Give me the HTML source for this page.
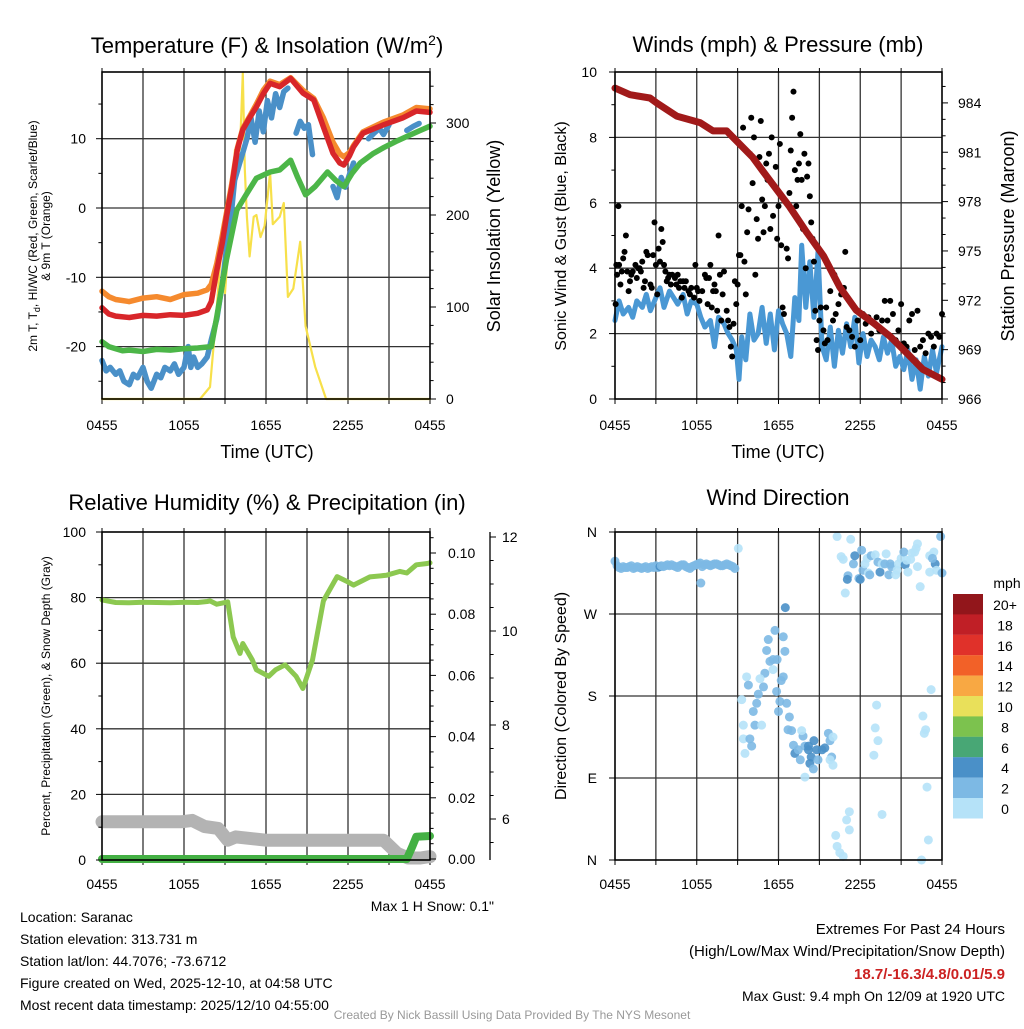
<!DOCTYPE html>
<html><head><meta charset="utf-8"><style>
html,body{margin:0;padding:0;background:#fff;}
svg text{font-family:"Liberation Sans",Arial,sans-serif;fill:#000;}
</style></head><body>
<svg id="c" width="1024" height="1024" viewBox="0 0 1024 1024" xmlns="http://www.w3.org/2000/svg"></svg>
<script>
// ---------- DATA ----------
const xTickLabels = ["0455","1055","1655","2255","0455"];
// Panel 1
const redT = [0,0.5,1,2,3,4,5,6,7,7.7,8,8.4,8.8,9.1,9.5,9.9,10.3,10.8,11.3,11.8,12.3,13,13.8,14.7,15.5,16.2,16.9,17.4,17.7,18.1,18.4,19.1,20.6,22,23,24];
const redV = [-14.4,-15.3,-15.6,-15.8,-15.5,-15.6,-15.4,-15.5,-15.2,-14.7,-13.5,-9,-5,-1.3,3,8.4,11.3,13,14.6,16.5,18,17.5,18.7,16.6,15.6,11.7,7.9,6.5,6.2,7.5,8.8,10.8,12,13,14,13.8];
const orangeV = [-12,-12.8,-13.2,-13.5,-13,-12.8,-13.2,-12.5,-12.3,-11.8,-11,-8,-4,-0.8,3.5,8.6,11.5,13.2,15,17,18.3,17.8,18.8,17,15.8,13,9.5,7.8,7.4,8,9,11,12.4,13.4,14.5,14.3];
const greenT = [0,0.5,1,1.5,2,3,4,5,6,7,8,8.4,9.1,9.86,10.6,11.3,12.3,13,13.8,14.3,14.9,15.6,16.5,17.1,17.7,18.3,18.9,19.8,20.6,21.5,22.5,23.3,24];
const greenV = [-19.3,-20,-20.3,-20.6,-20.5,-20.7,-20.4,-20.5,-20.3,-20.2,-20,-15.7,-7.5,-0.3,2.1,4.3,5.2,5.5,6.9,4.5,1.9,3.1,5.2,4,3.1,5,6.5,7.8,8.7,9.6,10.5,11.2,11.8];
const blueT = [0,0.3,0.6,1,1.3,1.6,2,2.3,2.6,3,3.3,3.6,4,4.3,4.6,5,5.3,5.6,6,6.3,6.5,6.7,7,7.3,7.7,8,8.4,8.8,9.1,9.4,9.7,10,10.3,10.6,10.9,11.2,11.5,11.8,12.1,12.4,12.7,13,13.3,13.6,null,14.2,14.5,14.8,15.1,15.4,null,16.9,17.2,17.5,17.8,18.1,18.4,null,19.5,19.9,20.3,20.6,21,null,22.3,22.8,23.2];
const blueV = [-22,-23.5,-23,-24,-23.5,-25,-25.5,-24,-24.5,-23,-25,-26,-24,-24.5,-23,-23.5,-22.5,-24,-23,-20,-23,-21.5,-23,-22.5,-21.5,-19,-16,-11,-6,-2,4,6,8,10,13,9.5,14,11,15.5,13,16.5,14.5,16.8,17.3,null,10.8,12.5,11.5,12,7.7,null,3.1,1.5,4.4,3,4.8,6.5,null,10,10.8,11.5,10.6,12,null,11.2,11.8,12.2];
const solarT = [0,7.17,7.9,8.3,8.63,8.88,9.0,9.4,9.73,10.1,10.3,10.45,10.6,10.8,11.1,11.3,11.6,11.9,12.3,12.5,13.0,13.3,13.6,14.0,14.5,14.9,15.6,16.4,24];
const solarV = [0,0,13,80,144,173,115,200,271,271,354,250,198,155,198,200,176,188,246,190,198,213,111,120,171,79,35,0,0];
// Panel 2
const presT = [0,1.1,2.57,3.06,4.53,6.24,7.2,8.2,8.9,10.1,10.9,11.9,12.8,14.1,15.3,16.5,17.7,19.0,20.2,21.4,22.6,24];
const presV = [984.9,984.5,984.3,984,983.2,982.8,982.3,982.3,981.7,980.7,979.8,978.7,977.7,976.1,974.7,972.8,971.4,970.6,969.8,968.8,967.8,967.2];
const windT = [0,0.3,0.6,1,1.3,1.6,2,2.3,2.6,3,3.3,3.6,4,4.3,4.6,5,5.3,5.6,6,6.3,6.6,7,7.3,7.6,8,8.3,8.6,8.9,9.1,9.3,9.6,9.9,10.2,10.5,10.8,11.1,11.4,11.7,12,12.3,12.6,12.9,13.2,13.5,13.7,14,14.3,14.6,14.9,15.2,15.5,15.8,16.1,16.4,16.7,17,17.3,17.6,17.9,18.2,18.5,18.8,19.1,19.4,19.7,20,20.3,20.6,20.9,21.2,21.5,21.8,22.1,22.4,22.7,23,23.3,23.6,24];
const windV = [2.4,3.0,2.6,2.8,2.5,3.0,2.8,3.2,2.7,3.1,3.4,2.8,3.3,3.1,2.9,3.2,2.6,3.0,2.9,2.5,2.2,2.4,1.6,2.5,2.3,2.0,1.8,1.5,0.6,1.9,1.2,2.6,1.8,2.0,2.8,1.7,2.6,1.5,2.7,2.3,2.0,1.3,3.1,2.4,4.7,2.8,4.2,2.5,4.5,1.6,1.2,2.2,1.0,2.1,1.4,2.3,1.6,2.5,1.1,2.0,1.3,1.8,1.6,1.2,1.9,1.4,1.8,1.0,1.3,0.9,1.5,0.6,1.2,0.3,1.3,0.7,1.5,0.8,1.6];
const gustT = [0.05,0.1,0.15,0.25,0.3,0.4,0.5,0.6,0.7,0.8,0.9,1.0,1.1,1.2,1.3,1.5,1.6,1.7,1.8,1.9,2.0,2.1,2.2,2.3,2.4,2.6,2.7,2.8,2.9,3.0,3.1,3.2,3.3,3.4,3.5,3.6,3.7,3.8,3.9,4.0,4.1,4.2,4.4,4.5,4.6,4.7,4.8,4.9,5.0,5.1,5.2,5.4,5.5,5.6,5.8,5.9,6.0,6.1,6.2,6.4,6.6,6.7,6.8,6.9,7.0,7.1,7.2,7.3,7.4,7.5,7.6,7.7,7.8,7.9,8.0,8.2,8.3,8.4,8.5,8.6,8.7,8.8,8.9,9.0,9.1,9.2,9.3,9.4,9.5,9.6,9.7,9.8,9.9,10.0,10.1,10.2,10.3,10.4,10.5,10.6,10.7,10.8,10.9,11.0,11.1,11.2,11.3,11.4,11.5,11.6,11.7,11.8,11.9,12.0,12.1,12.2,12.3,12.4,12.6,12.7,12.8,12.9,13.0,13.1,13.2,13.3,13.4,13.5,13.6,13.7,13.8,13.9,14.0,14.1,14.2,14.3,14.4,14.5,14.6,14.7,14.8,14.9,15.0,15.1,15.3,15.4,15.5,15.6,15.8,16.0,16.1,16.2,16.4,16.6,16.8,16.9,17.0,17.2,17.4,17.6,17.8,18.0,18.2,18.4,18.6,18.8,19.0,19.2,19.4,19.6,19.8,20.0,20.2,20.4,20.6,20.8,21.0,21.2,21.4,21.6,21.8,22.0,22.2,22.4,22.6,22.8,23.0,23.2,23.4,23.6,23.8,24.0];
const gustV = [2.9,4.1,3.8,5.9,4.1,3.5,3.9,4.3,4.5,5.0,3.9,3.3,3.6,3.8,3.9,4.1,3.7,4.0,4.0,3.9,4.2,3.4,3.6,4.5,4.4,3.5,3.4,4.4,5.4,4.1,3.2,4.6,4.2,5.2,4.8,4.1,3.9,3.6,3.7,3.8,3.5,3.8,3.7,3.5,3.8,3.4,3.6,3.1,3.6,3.4,3.6,3.3,3.2,3.4,3.1,4.1,3.4,3.3,3.0,3.3,3.8,3.7,2.9,3.7,4.1,2.8,3.3,3.5,3.3,2.7,5.0,3.8,2.4,3.2,3.9,2.7,2.4,2.2,1.6,1.3,2.3,3.6,2.9,3.5,4.4,4.4,5.9,8.3,4.2,3.2,5.1,5.8,7.5,8.6,6.6,8.0,3.8,5.5,4.9,7.4,8.5,6.1,5.1,5.9,7.2,6.7,7.5,5.2,8.0,5.6,6.5,7.1,4.9,5.9,7.8,4.7,2.8,2.6,4.6,4.3,6.3,7.6,8.6,9.4,7.0,5.9,6.7,7.2,8.1,6.7,5.2,7.5,4.0,6.8,7.2,6.2,5.4,4.9,4.2,2.7,1.8,1.5,2.4,2.8,2.1,1.7,2.8,1.8,3.3,2.4,3.8,2.6,2.9,3.2,3.4,4.5,2.2,2.1,1.9,1.6,2.4,1.8,2.6,2.3,2.5,2.0,2.3,2.5,2.1,2.4,3.0,2.4,3.0,2.6,1.8,2.1,2.9,1.7,1.6,2.4,2.6,1.5,2.7,1.6,1.8,1.4,2.0,1.9,1.6,2.0,1.9,2.6];
// Panel 3
const rhT = [0,1,2,3,4,5,6,7,7.7,7.9,8.4,9.2,9.6,10.1,10.3,11.0,11.3,12.2,12.7,13.4,14.2,14.7,15.4,16.2,17.2,17.9,18.4,19.6,20.8,21.8,22.3,23.0,23.8,24];
const rhV = [79.3,78.5,78.4,78.6,78.5,78.4,78.6,78.5,78.8,79,78,78.7,68,63,66,61,58,56,58,59.5,56,52.3,61,79,86.4,85,83.8,86.3,86.8,88,87.5,90,90.4,90.6];
const snowT = [0,3,5.8,6.6,7.5,8.5,9.2,9.8,12,15,17,20.6,21.6,22.4,23.3,24];
const snowV = [5.94,5.94,5.94,5.97,5.84,5.80,5.55,5.62,5.55,5.55,5.55,5.55,5.27,5.17,5.17,5.2];
const precT = [0,22.3,22.7,23.0,24];
const precV = [0,0,0.004,0.0073,0.0075];
// Panel 4
const dirT = [0,0.15,0.3,0.45,0.6,0.75,0.9,1.05,1.2,1.35,1.5,1.65,1.8,1.95,2.1,2.25,2.4,2.55,2.7,2.85,3.0,3.15,3.3,3.4,3.55,3.7,3.85,4.0,4.15,4.3,4.45,4.6,4.75,4.9,5.05,5.2,5.35,5.5,5.65,5.8,5.95,6.1,6.25,6.3,6.4,6.55,6.7,6.85,7.0,7.15,7.3,7.45,7.6,7.75,7.9,8.05,8.2,8.35,8.5,8.65,8.8,9.05,9.3,9.66,9.79,9.42,9.42,9.54,9.9,10.03,10.15,10.4,10.27,10.76,10.52,10.9,11.0,10.64,11.13,11.25,11.74,11.37,11.6,11.9,11.6,11.86,12.1,12.0,12.2,12.35,12.35,12.47,12.6,12.8,12.7,12.96,13.1,13.2,13.45,13.6,13.8,13.7,13.94,14.2,14.3,14.4,14.56,14.2,14.6,14.8,14.9,15.2,15.4,15.66,15.78,16.0,15.9,16.0,15.78,13.94,12.5,17.2,17.0,17.2,16.2,16.3,16.5,16.75,19.2,19.1,19.3,19.0,19.6,23.2,22.6,22.8,22.7,22.9,23.0,22.5,16.3,17.3,16.6,16.75,16.9,17.1,17.05,17.5,17.6,17.9,18.0,18.1,18.2,18.35,18.5,18.6,18.7,18.8,19.1,19.3,19.45,19.6,19.8,19.9,20.1,20.2,20.3,20.6,20.7,20.8,21.0,21.2,21.3,21.4,21.5,21.7,21.8,22.0,22.1,22.2,22.2,22.4,23.1,23.4,23.5,23.6,23.1,23.9,24.0,23.3];
const dirA = [328,323,321,320,322,321,321,322,323,320,321,322,321,320,321,322,320,321,322,321,323,321,322,323,322,323,324,323,324,323,322,321,323,324,324,322,321,320,322,323,324,325,326,304,322,324,325,324,323,324,325,325,324,323,323,324,325,324,323,322,320,342,176,201,192,148,133,117,133,125,163,172,148,148,182,190,205,199,230,242,252,218,220,220,209,185,174,163,197,201,245,229,172,157,143,142,126,117,121,110,136,142,125,121,106,113,100,125,131,121,110,121,123,139,131,135,113,104,110,91,277,53,44,33,27,15,8,4,170,145,131,115,50,187,158,143,139,80,22,0,355,352,333,330,293,312,308,325,334,309,308,340,318,325,331,315,313,334,335,327,316,325,325,336,313,325,322,313,318,325,331,338,324,329,316,330,337,338,342,347,322,300,334,338,325,318,316,355,315,331];
const dirSpd = [3,3,3,3,3,3,3,3,3,3,3,3,3,3,3,3,3,3,3,3,3,3,5,3,3,3,3,3,3,3,3,3,3,3,3,3,3,3,3,3,3,3,3,3,3,3,3,3,3,3,3,3,3,3,3,3,3,3,3,3,3,1,1,1,3,1,1,1,3,3,3,3,3,1,3,3,3,1,3,3,3,3,3,3,1,3,3,3,3,3,3,3,3,3,3,3,3,5,3,3,3,1,3,5,5,5,3,5,5,5,3,5,5,3,3,1,3,1,1,1,5,1,1,1,1,1,1,1,1,1,1,1,1,1,1,1,1,1,1,1,1,1,1,1,1,3,5,3,5,3,5,3,3,1,1,1,3,3,1,3,5,1,3,1,3,3,3,1,1,1,1,3,5,1,1,1,1,1,1,1,1,1,1,1,5,1,1];
const cbarLabels = ["20+","18","16","14","12","10","8","6","4","2","0"];
const cbarColors = ["#92161b","#c01f26","#e0312a","#f26128","#f8a843","#e9e05a","#7cc24e","#48a775","#4a90c8","#7db9e4","#b5e2f8"];

// ---------- RENDER ----------
const svg = document.getElementById('c');
const NS = 'http://www.w3.org/2000/svg';
function mk(tag, attrs, parent){ const e=document.createElementNS(NS,tag); for(const k in attrs) e.setAttribute(k,attrs[k]); (parent||svg).appendChild(e); return e; }
function txt(s,x,y,size,anchor,parent,extra){ const e=mk('text',Object.assign({x:x,y:y,'font-size':size,'text-anchor':anchor||'middle'},extra||{}),parent); e.textContent=s; return e; }
function spdColor(s){ if(s===undefined||isNaN(s)) s=3; const i=Math.max(0,Math.min(10,Math.floor(s/2))); return cbarColors[10-i]; }

function panel(name,L,T,R,B){
  const g=mk('g',{});
  
  
  return {g,L,T,R,B,x:t=>L+t/24*(R-L)};
}
function frame(p,hLinesY){
  const g=mk('g',{},p.g);
  
  
  for(let i=1;i<8;i++){ const x=p.L+i*(p.R-p.L)/8; mk('line',{x1:x,x2:x,y1:p.T,y2:p.B,stroke:'#333','stroke-width':1.3},g); }
  hLinesY.forEach(y=>mk('line',{x1:p.L,x2:p.R,y1:y,y2:y,stroke:'#333','stroke-width':1.3},g));
  for(let i=0;i<=8;i++){ const x=p.L+i*(p.R-p.L)/8; mk('line',{x1:x,x2:x,y1:p.T-4,y2:p.T,stroke:'#000'},g); mk('line',{x1:x,x2:x,y1:p.B,y2:p.B+5,stroke:'#000'},g); }
}
function border(p){ const r=mk('rect',{x:p.L,y:p.T,width:p.R-p.L,height:p.B-p.T,fill:'none',stroke:'#000','stroke-width':1.6},p.g);   }
function xlabels(p,y){ xTickLabels.forEach((s,i)=>{ const e=txt(s,p.L+i*(p.R-p.L)/4,y,14,'middle',p.g);   }); }
function path(p,T,V,xf,yf,color,w,name){
  let d='',pen=false;
  for(let i=0;i<T.length;i++){ if(T[i]===null||V[i]===null){pen=false;continue;} d+=(pen?'L':'M')+xf(T[i]).toFixed(1)+','+yf(V[i]).toFixed(1); pen=true; }
  const e=mk('path',{d:d,fill:'none',stroke:color,'stroke-width':w,'stroke-linejoin':'round','stroke-linecap':'round'},p.g);
  
  
}
function yTicks(p,x,vals,yf,len,minor){ vals.forEach(v=>mk('line',{x1:x,x2:x+len,y1:yf(v),y2:yf(v),stroke:'#000'},p.g)); if(minor) minor.forEach(v=>mk('line',{x1:x,x2:x+len*0.6,y1:yf(v),y2:yf(v),stroke:'#000'},p.g)); }

// ===== Panel 1 =====
const p1=panel('temperature-panel',102,72,430,399);
const y1=v=>208-v*6.93, ys=s=>399-s*0.92;
frame(p1,[10,0,-10,-20].map(y1));
path(p1,solarT,solarV,p1.x,ys,'#f7e04a',2.2,'solar-insolation-line');
path(p1,blueT,blueV,p1.x,y1,'#4a90c8',5.5,'wind-chill-line');
path(p1,greenT,greenV,p1.x,y1,'#4cb648',5.5,'dewpoint-line');
path(p1,redT,orangeV,p1.x,y1,'#f58a2e',5.5,'temp-9m-line');
path(p1,redT,redV,p1.x,y1,'#d8262a',5.5,'temp-2m-line');
border(p1);
yTicks(p1,p1.L,[10,0,-10,-20],y1,-6,[15,5,-5,-15,-25]);
yTicks(p1,p1.R,[0,100,200,300],ys,6,[20,40,60,80,120,140,160,180,220,240,260,280,320,340]);
[10,0,-10,-20].forEach(v=>{const e=txt(String(v),86,y1(v)+5,14,'end',p1.g);  });
[0,100,200,300].forEach(v=>{const e=txt(String(v),446,ys(v)+5,14,'start',p1.g);  });
xlabels(p1,430);
let e;
e=txt('Time (UTC)',267,458,18);  
e=mk('text',{x:267,y:53,'font-size':22,'text-anchor':'middle'}); e.innerHTML='Temperature (F) &amp; Insolation (W/m<tspan dy="-8" font-size="14">2</tspan><tspan dy="8">)</tspan>';
 
e=mk('text',{transform:'translate(37,236) rotate(-90)','font-size':12,'text-anchor':'middle'}); e.innerHTML='2m T, T<tspan dy="3" font-size="9">d</tspan><tspan dy="-3">, HI/WC (Red, Green, Scarlet/Blue)</tspan>';
 
e=txt('& 9m T (Orange)',0,0,12,'middle',null,{transform:'translate(50,236) rotate(-90)'});  
e=txt('Solar Insolation (Yellow)',0,0,18,'middle',null,{transform:'translate(500,236) rotate(-90)'});  

// ===== Panel 2 =====
const p2=panel('winds-panel',615,72,942,399);
const yw=w=>399-w*32.7, yp=p=>399-(p-966)*16.45;
frame(p2,[2,4,6,8].map(yw));
path(p2,windT,windV,p2.x,yw,'#4a98d4',5,'sonic-wind-line');
gustT.forEach((t,i)=>{ const c=mk('circle',{cx:p2.x(t),cy:yw(gustV[i]),r:3,fill:'#000'},p2.g);
  
   });
path(p2,presT,presV,p2.x,yp,'#a11a1a',7,'pressure-line');
border(p2);
yTicks(p2,p2.L,[0,2,4,6,8,10],yw,-6,[1,3,5,7,9]);
yTicks(p2,p2.R,[966,969,972,975,978,981,984],yp,6,[967,968,970,971,973,974,976,977,979,980,982,983,985]);
[0,2,4,6,8,10].forEach(v=>{const e=txt(String(v),597,yw(v)+5,14,'end',p2.g);  });
[966,969,972,975,978,981,984].forEach(v=>{const e=txt(String(v),958,yp(v)+5,14,'start',p2.g);  });
xlabels(p2,430);
e=txt('Time (UTC)',778,458,18);  
e=txt('Winds (mph) & Pressure (mb)',778,52,22);  
e=txt('Sonic Wind & Gust (Blue, Black)',0,0,16,'middle',null,{transform:'translate(566,236) rotate(-90)'});  
e=txt('Station Pressure (Maroon)',0,0,18,'middle',null,{transform:'translate(1014,236) rotate(-90)'});  

// ===== Panel 3 =====
const p3=panel('humidity-panel',102,532,430,860);
const yr=v=>860-v*3.28, ypr=v=>859-v*3060, ysn=v=>537+(12-v)*47;
frame(p3,[20,40,60,80].map(yr));
path(p3,rhT,rhV,p3.x,yr,'#8cc850',5,'relative-humidity-line');
path(p3,snowT,snowV,p3.x,ysn,'#b3b3b3',13,'snow-depth-line');
path(p3,precT,precV,p3.x,ypr,'#44b044',8,'precipitation-line');
border(p3);
yTicks(p3,p3.L,[0,20,40,60,80,100],yr,-6,[10,30,50,70,90]);
yTicks(p3,p3.R,[0,0.02,0.04,0.06,0.08,0.1],ypr,6,[0.005,0.01,0.015,0.025,0.03,0.035,0.045,0.05,0.055,0.065,0.07,0.075,0.085,0.09,0.095,0.105]);
[0,20,40,60,80,100].forEach(v=>{const e=txt(String(v),86,yr(v)+5,14,'end',p3.g);  });
[0,0.02,0.04,0.06,0.08,0.1].forEach(v=>{const e=txt(v.toFixed(2),448,ypr(v)+5,14,'start',p3.g);  });
mk('line',{x1:490,x2:490,y1:532,y2:860,stroke:'#000','stroke-width':1.3},p3.g);
yTicks(p3,490,[6,8,10,12],ysn,6,[5.5,6.5,7,7.5,8.5,9,9.5,10.5,11,11.5]);
[6,8,10,12].forEach(v=>{const e=txt(String(v),502,ysn(v)+5,14,'start',p3.g);  });
xlabels(p3,889);
e=txt('Relative Humidity (%) & Precipitation (in)',267,510,22);  
e=txt('Percent, Precipitation (Green), & Snow Depth (Gray)',0,0,12,'middle',null,{transform:'translate(50,696) rotate(-90)'});  
e=txt('Max 1 H Snow: 0.1"',494,911,14,'end');  

// ===== Panel 4 =====
const p4=panel('wind-direction-panel',615,532,942,860);
const yd=a=>860-a/360*328;
frame(p4,[90,180,270].map(yd));
dirT.forEach((t,i)=>{ const c=mk('circle',{cx:p4.x(t),cy:yd(dirA[i]),r:4.5,fill:spdColor(dirSpd[i]),'fill-opacity':0.9},p4.g);
  
   });
border(p4);
yTicks(p4,p4.L,[0,90,180,270,360],yd,-6);
['N','E','S','W','N'].forEach((s,i)=>{const e=txt(s,597,yd(i*90)+5,14,'end',p4.g);  });
xlabels(p4,889);
e=txt('Wind Direction',778,505,22);  
e=txt('Direction (Colored By Speed)',0,0,16,'middle',null,{transform:'translate(566,696) rotate(-90)'});  
// colorbar
const cb=mk('g',{});


cbarColors.forEach((c,i)=>{ mk('rect',{x:953,y:594+i*20.4,width:30,height:20.5,fill:c},cb); const t=txt(cbarLabels[i],1005,594+i*20.4+16,14,'middle',cb);   });
e=txt('mph',1007,588,14,'middle',cb);  

// ===== Footer text =====
const info=['Location: Saranac','Station elevation: 313.731 m','Station lat/lon: 44.7076; -73.6712','Figure created on Wed, 2025-12-10, at 04:58 UTC','Most recent data timestamp: 2025/12/10 04:55:00'];
info.forEach((s,i)=>{const e=txt(s,20,922+i*22,14,'start');  });
e=txt('Extremes For Past 24 Hours',1005,934,15,'end');  
e=txt('(High/Low/Max Wind/Precipitation/Snow Depth)',1005,956,15,'end');  
e=txt('18.7/-16.3/4.8/0.01/5.9',1005,979,15,'end',null,{'font-weight':'bold',fill:'#cc2222',style:'fill:#cc2222'});  
e=txt('Max Gust: 9.4 mph On 12/09 at 1920 UTC',1005,1001,14,'end');  
e=txt('Created By Nick Bassill Using Data Provided By The NYS Mesonet',512,1019,12,'middle',null,{style:'fill:#999'});  
</script>
</body></html>
